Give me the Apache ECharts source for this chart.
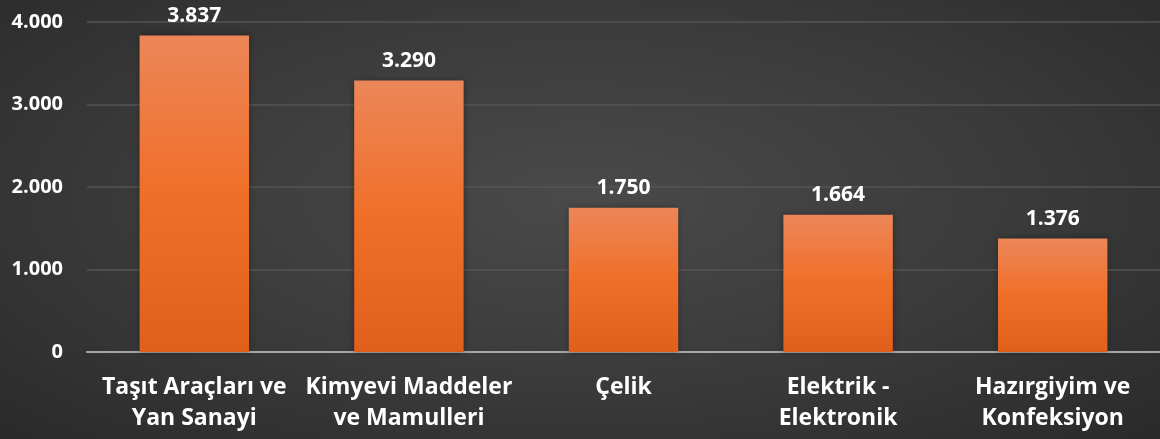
<!DOCTYPE html>
<html>
<head>
    <meta charset="utf-8">
    <title>chart</title>
    <style>
        html, body { margin: 0; padding: 0; }
        #chart {
            width: 1160px;
            height: 439px;
            background: radial-gradient(ellipse at 50% 45%, #4a4a4a 0%, #3a3a3a 55%, #2a2a2a 100%);
        }
    </style>
    <script src="https://cdn.jsdelivr.net/npm/echarts@6/dist/echarts.min.js"></script>
</head>
<body>
<div id="chart"></div>
<script>
    const categories = ["Taşıt Araçları ve\nYan Sanayi", "Kimyevi Maddeler\nve Mamulleri", "Çelik", "Elektrik -\nElektronik", "Hazırgiyim ve\nKonfeksiyon"];
    const values = [3837, 3290, 1750, 1664, 1376];
    const yTicks = [0, 1000, 2000, 3000, 4000];

    // 1.000 style numbers
    function fmt(v) {
        return String(v).replace(/\B(?=(\d{3})+(?!\d))/g, '.');
    }

    const font = '"Open Sans", "DejaVu Sans", sans-serif';

    echarts.init(document.getElementById('chart')).setOption({
        backgroundColor: 'transparent',
        animation: false,
        grid: { left: 87, right: 0, top: 22, bottom: 87 },
        xAxis: {
            type: 'category',
            data: categories,
            axisLine: { lineStyle: { color: '#a6a6a6', width: 2 } },
            axisTick: { show: false },
            axisLabel: {
                interval: 0,
                color: '#ffffff',
                fontWeight: 'bold',
                fontSize: 23,
                fontFamily: font,
                lineHeight: 31,
                margin: 20
            }
        },
        yAxis: {
            type: 'value',
            min: yTicks[0],
            max: yTicks[yTicks.length - 1],
            interval: 1000,
            axisLine: { show: false },
            axisTick: { show: false },
            splitLine: { lineStyle: { color: '#545454', width: 1.5 } },
            axisLabel: {
                color: '#ffffff',
                fontWeight: 'bold',
                fontSize: 20,
                fontFamily: font,
                margin: 24,
                formatter: fmt
            }
        },
        series: [{
            type: 'bar',
            data: values,
            barWidth: '51%',
            itemStyle: {
                color: new echarts.graphic.LinearGradient(0, 0, 0, 1, [
                    { offset: 0, color: '#ec8659' },
                    { offset: 0.5, color: '#f06f28' },
                    { offset: 1, color: '#e05f1b' }
                ]),
                shadowColor: 'rgba(0,0,0,0.35)',
                shadowBlur: 6
            },
            label: {
                show: true,
                position: 'top',
                distance: 9,
                color: '#ffffff',
                fontWeight: 'bold',
                fontSize: 21,
                fontFamily: font,
                formatter: p => fmt(p.value)
            }
        }]
    });
</script>
</body>
</html>
